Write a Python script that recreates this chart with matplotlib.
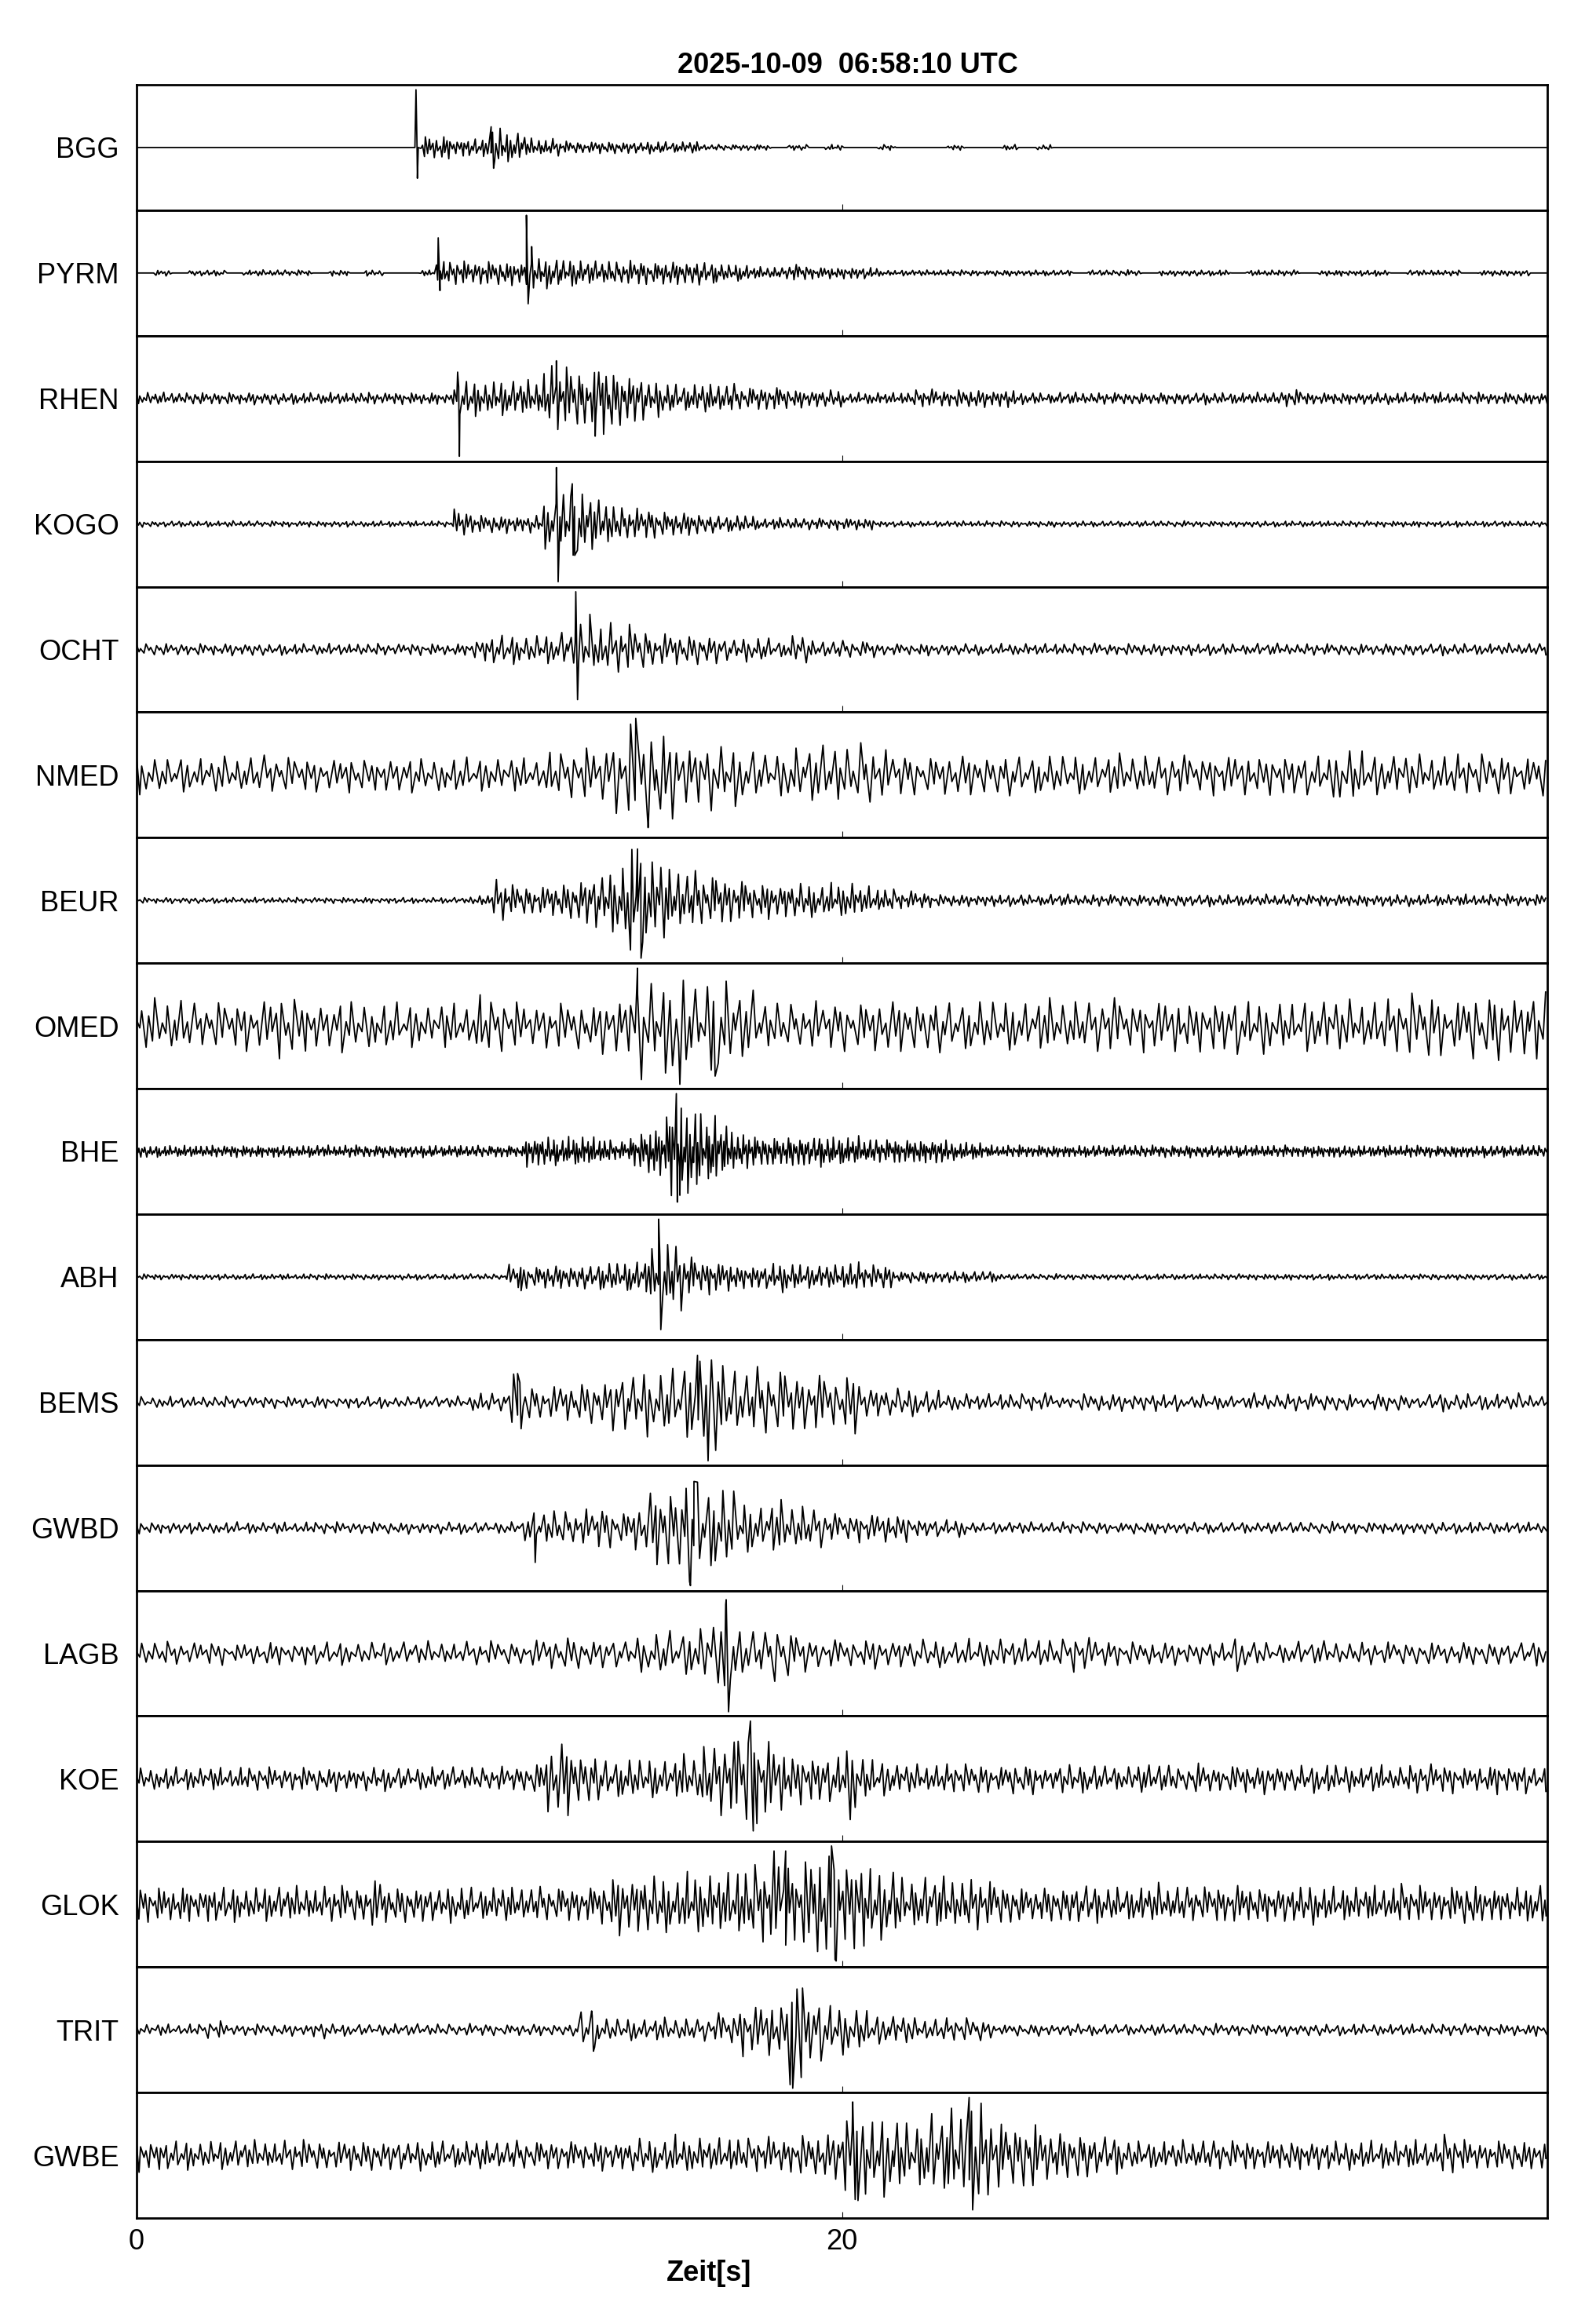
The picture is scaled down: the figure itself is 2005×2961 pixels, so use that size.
import numpy as np
import matplotlib.pyplot as plt

plt.rcParams['font.family'] = ['Liberation Sans', 'DejaVu Sans']

# Stationen von oben nach unten
stations = ['BGG', 'PYRM', 'RHEN', 'KOGO', 'OCHT', 'NMED', 'BEUR', 'OMED', 'BHE',
            'ABH', 'BEMS', 'GWBD', 'LAGB', 'KOE', 'GLOK', 'TRIT', 'GWBE']

# Hüllkurve je 0.5 s (ein Zeichen = eine Stufe von 0.05 der halben Spurhöhe),
# abgelesen aus dem Bild, 10 Zeichen = 5 s
levels = '0123456789abcdefghij'
envelopes = [
    '0000000000 0000004433 7533222222 2211110101 0010001001 0100000000 0000000000 0000000000',
    '0101101111 0101001444 4455544444 4443322322 2211111111 1110111011 1101110111 1011101110',
    '2222222222 2222222266 666baac986 5555444333 2222333333 2222222222 2222232222 2222222222',
    '1111111111 1111111153 3338ca8655 4433322222 2211111111 1111111111 1111111111 1111111111',
    '2222222222 2222222224 5555689876 5554443533 3322222222 2222222222 2222222222 2222222222',
    '7666666766 6666666666 666889beih ecca9889ab 9c87777777 7777777777 77777777aa 7777777777',
    '1111111111 1111111112 755568acie ba98766666 6543322222 2222222222 2222222222 2222222222',
    '8998889aba 899888788b 9888889bif ifhfc98888 9999999999 99999a9999 99a9999999 9abbabbbcc',
    '2222222222 2222222222 2255554368 hec8655555 5444443322 2222222222 2222222222 2222222222',
    '1111111111 1111111111 1444445569 c765445544 5442222221 1111111111 1111111111 1111111111',
    '2222222222 2222222224 3966678aba cfidbccaa9 a655543333 3323333332 3323333332 3323333332',
    '2222222222 2222222222 225666768d fife989875 5555333222 2222222222 2222222222 2222222222',
    '4444434444 4444444444 4455655567 89bj97b755 5555555555 5557554444 4464444444 4444444444',
    '4444444444 4444444444 446cd97777 78cdjfb988 d865555555 5455545554 5455545554 5455545554',
    '6666666666 6669666666 6666668aaa ababcehfij heca999987 6667666766 6676667666 6766676667',
    '2222322222 3222222222 2222274444 444699ajb9 8855444432 2222222222 2222222222 2222222222',
    '6555555555 5555555555 5555555566 7666666778 hdecdefjeb ca88765555 5555555555 5555755555',
]

# Abstand der Extrema [s] je Station
ext_dt = [0.05, 0.05, 0.055, 0.055, 0.07, 0.09, 0.06, 0.09, 0.04,
          0.055, 0.08, 0.075, 0.09, 0.07, 0.065, 0.075, 0.07]

# einzelne grosse Ausschläge (Zeit [s], Auslenkung)
spikes = [
    [(7.92, 0.92), (7.96, -0.49), (10.05, 0.33), (10.12, -0.33)],
    [(8.55, 0.56), (8.60, -0.28), (11.05, 0.92), (11.10, -0.49), (11.20, 0.42)],
    [(9.10, 0.42), (9.15, -0.92), (11.90, 0.60), (13.00, -0.60)],
    [(11.90, 0.90), (11.95, -0.92), (12.35, 0.64), (12.42, -0.50)],
    [(12.45, 0.92), (12.50, -0.80), (12.85, 0.56)],
    [(14.15, 0.90), (14.50, -0.84)],
    [(14.00, -0.79), (14.20, 0.82), (14.30, -0.92)],
    [(14.20, 0.92), (15.40, -0.93), (16.40, -0.80)],
    [(15.30, 0.92), (15.40, -0.70)],
    [(10.90, -0.22), (14.80, 0.92), (14.86, -0.84)],
    [(10.80, 0.46), (10.90, -0.42), (15.90, 0.75), (16.20, -0.93)],
    [(11.30, -0.55), (15.70, -0.92), (15.80, 0.74)],
    [(16.70, 0.78), (16.78, -0.93)],
    [(17.40, 0.92), (17.48, -0.83)],
    [(18.40, 0.85), (19.70, 0.93), (19.80, -0.88)],
    [(12.90, 0.30), (12.95, -0.34), (18.60, -0.93), (18.72, 0.65)],
    [(20.30, 0.85), (20.45, -0.72), (23.60, 0.92), (23.70, -0.87)],
]

# relative Grösse aufeinanderfolgender Extrema (aus dem Rauschen von OMED abgelesen),
# kleine Werte sind die kurzen Zacken auf den Flanken
texture = [0.7, 0.95, 0.15, 0.35, 0.9, 0.6, 0.1, 0.25, 0.8, 1.0, 0.45, 0.7, 0.12, 0.3,
           0.85, 0.75, 0.2, 0.55, 0.95, 0.4, 0.08, 0.2, 0.8, 0.9, 0.5, 0.7, 0.18, 0.4,
           0.95, 0.65, 0.3, 0.1, 0.75, 0.85, 0.4, 0.6, 1.0, 0.5, 0.12, 0.3, 0.8, 0.7,
           0.2, 0.5, 0.9, 0.45, 0.15]
# langsame Schwankung der Stärke (je vier Extrema ein Wert)
swell = [1.0, 0.9, 0.95, 0.85, 1.0, 0.9, 0.8, 1.0, 0.88, 1.0, 0.95, 0.82, 0.92]
gaps = [1.0, 0.6, 1.4, 0.8, 1.2, 0.7, 1.5, 0.9, 1.1, 0.5, 1.3]

t_end = 40.0
block = 0.5
step = 0.05


def build_trace(code, dt, shift, extra):
    env = [levels.index(c) * step for c in code.replace(' ', '')]
    t, y = [], []
    tt, k = 0.0, 0
    while tt <= t_end:
        b = min(int(tt / block), len(env) - 1)
        a = env[b] * texture[(k + shift) % len(texture)] * swell[((k + shift) // 4) % len(swell)]
        t.append(tt)
        y.append(a if k % 2 == 0 else -a)
        tt += dt * gaps[(k + shift) % len(gaps)]
        k += 1
    for ts, vs in extra:
        t.append(ts)
        y.append(vs)
    order = np.argsort(t)
    return np.array(t)[order], np.array(y)[order]


fig = plt.figure(figsize=(20.05, 29.61), dpi=100)
fig.subplots_adjust(left=174 / 2005, right=1971 / 2005,
                    top=1 - 108 / 2961, bottom=1 - 2826 / 2961, hspace=0)
axes = fig.subplots(len(stations), 1, sharex=True)

for i, ax in enumerate(axes):
    t, y = build_trace(envelopes[i], ext_dt[i], 11 * i, spikes[i])
    ax.plot(t, y, color='black', lw=1.3)
    ax.set_xlim(0, 39.99)
    ax.set_ylim(-1, 1)
    ax.set_yticks([0])
    ax.set_yticklabels([stations[i]], fontsize=26)
    ax.tick_params(axis='y', length=0, pad=16)
    ax.set_xticks([0, 20])
    ax.tick_params(axis='x', direction='in', length=6, width=0.8,
                   labelsize=26, pad=9, labelbottom=(i == len(stations) - 1))
    for s in ax.spines.values():
        s.set_linewidth(2.0)

fig.text(1080 / 2005, 1 - 93 / 2961, '2025-10-09  06:58:10 UTC',
         ha='center', va='baseline', fontsize=26, fontweight='bold')
fig.text(903 / 2005, 1 - 2906 / 2961, 'Zeit[s]',
         ha='center', va='baseline', fontsize=26, fontweight='bold')

fig.savefig('out.png', dpi=100)
